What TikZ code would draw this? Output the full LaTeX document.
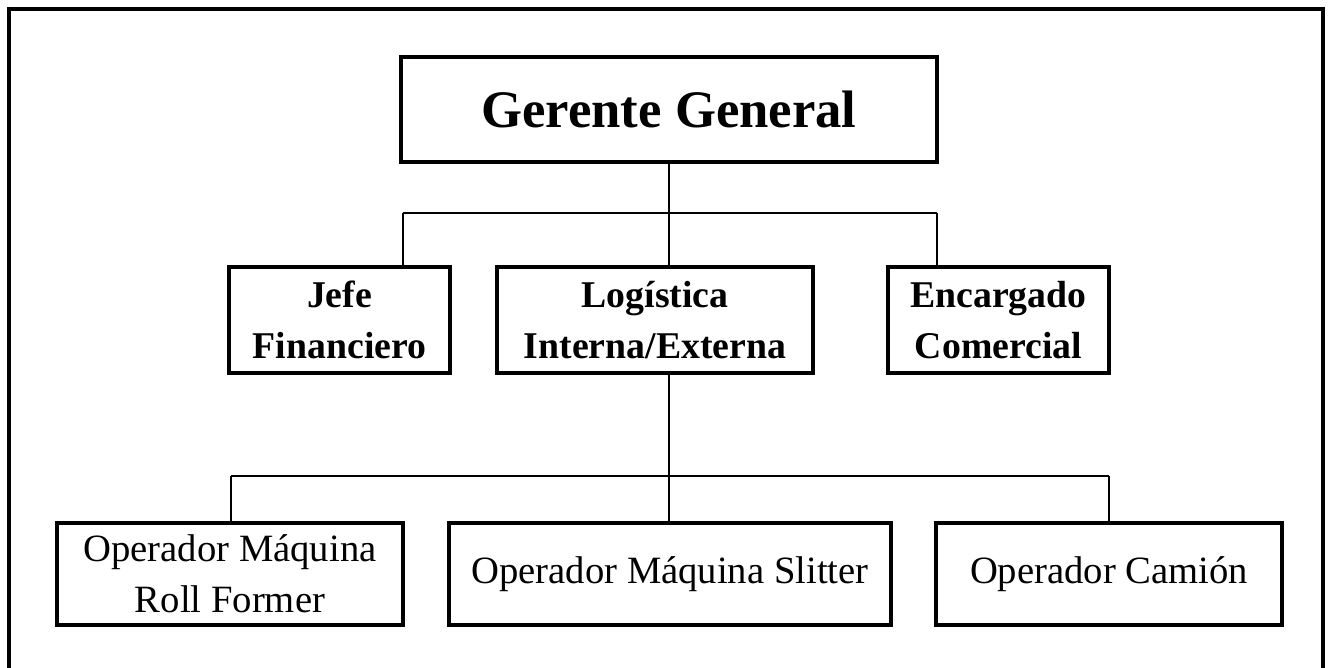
\documentclass[tikz,border=0pt]{standalone}
\usepackage{fontspec}
\setmainfont{Liberation Serif}

\tikzset{
  box/.style={draw, rectangle, line width=2.1pt, inner sep=0pt, align=center,
              font=\fontsize{22}{29}\selectfont},
  headbox/.style={box, font=\fontsize{30}{36}\selectfont\bfseries},
  midbox/.style={box, font=\fontsize{21.5}{29}\selectfont\bfseries},
  link/.style={line width=0.95pt},
  frame/.style={line width=2.1pt}
}

\begin{document}
\begin{tikzpicture}[x=0.02cm, y=-0.02cm]

% page size and outer frame (open at the bottom)
\clip (0,0) rectangle (1330,667);
\draw[frame] (9,9) rectangle (1323,720);

% top
\node[headbox, minimum width=10.72cm, minimum height=2.1cm] at (669,109.5) (gerente) {Gerente General};

% second level
\node[midbox, minimum width=4.42cm, minimum height=2.12cm] at (339.5,320) (jefe) {Jefe\\Financiero};
\node[midbox, minimum width=6.32cm, minimum height=2.12cm] at (655,320) (logistica) {Log\'istica\\Interna/Externa};
\node[midbox, minimum width=4.42cm, minimum height=2.12cm] at (998.5,320) (encargado) {Encargado\\Comercial};

% third level
\node[box, minimum width=6.92cm, minimum height=2.04cm] at (230,574) (rollformer) {Operador M\'aquina\\Roll Former};
\node[box, minimum width=8.84cm, minimum height=2.04cm] at (670,574) (slitter) {Operador M\'aquina Slitter};
\node[box, minimum width=6.92cm, minimum height=2.04cm] at (1109,574) (camion) {Operador Cami\'on};

% branch points
\coordinate (busa) at (669,213);
\coordinate (busaw) at (403,213);
\coordinate (busae) at (937,213);
\coordinate (busb) at (669,476);
\coordinate (busbw) at (231,476);
\coordinate (busbe) at (1109,476);

% gerente to second level
\draw[link] (gerente.south) -- (busa);
\draw[link] (busaw) -- (busae);
\draw[link] (busaw) -- (jefe.north -| busaw);
\draw[link] (busa) -- (logistica.north -| busa);
\draw[link] (busae) -- (encargado.north -| busae);

% logistica to third level
\draw[link] (logistica.south -| busb) -- (slitter.north -| busb);
\draw[link] (busbw) -- (busbe);
\draw[link] (busbw) -- (rollformer.north -| busbw);
\draw[link] (busbe) -- (camion.north);

\end{tikzpicture}
\end{document}
